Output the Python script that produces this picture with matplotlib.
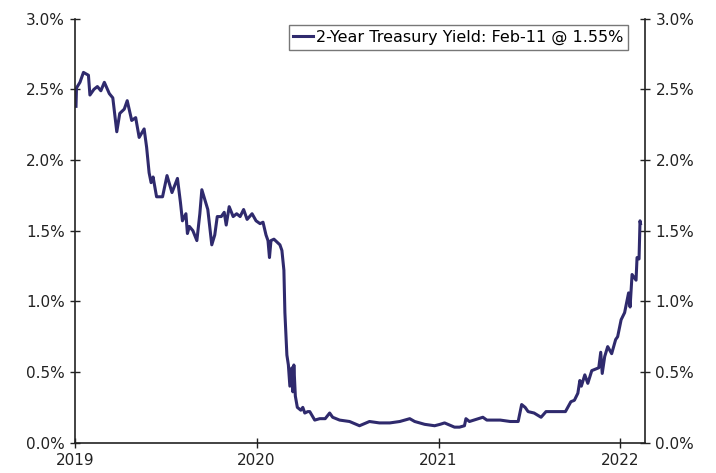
import matplotlib
matplotlib.use("Agg")
import matplotlib.pyplot as plt
from matplotlib.ticker import FuncFormatter
import pandas as pd

dates = [
    "2019-01-03", "2019-01-04", "2019-01-11", "2019-01-18", "2019-01-28", "2019-01-31",
    "2019-02-08", "2019-02-15", "2019-02-22", "2019-03-01", "2019-03-11", "2019-03-18",
    "2019-03-26", "2019-04-01", "2019-04-10", "2019-04-16", "2019-04-25", "2019-05-03",
    "2019-05-10", "2019-05-20", "2019-05-25", "2019-05-30", "2019-06-03", "2019-06-07",
    "2019-06-14", "2019-06-26", "2019-07-05", "2019-07-15", "2019-07-26", "2019-08-01",
    "2019-08-05", "2019-08-12", "2019-08-15", "2019-08-19", "2019-08-26", "2019-09-03",
    "2019-09-09", "2019-09-13", "2019-09-19", "2019-09-25", "2019-10-03", "2019-10-09",
    "2019-10-14", "2019-10-22", "2019-10-28", "2019-11-01", "2019-11-07", "2019-11-15",
    "2019-11-22", "2019-11-29", "2019-12-06", "2019-12-13", "2019-12-23", "2019-12-31",
    "2020-01-08", "2020-01-14", "2020-01-20", "2020-01-24", "2020-01-27", "2020-01-30",
    "2020-02-05", "2020-02-11", "2020-02-17", "2020-02-21", "2020-02-25", "2020-02-27",
    "2020-03-02", "2020-03-05", "2020-03-08", "2020-03-12", "2020-03-14", "2020-03-16",
    "2020-03-19", "2020-03-23", "2020-03-30", "2020-04-03", "2020-04-07", "2020-04-13",
    "2020-04-17", "2020-04-27", "2020-05-07", "2020-05-18", "2020-05-27", "2020-06-02",
    "2020-06-16", "2020-07-06", "2020-07-26", "2020-08-15", "2020-09-04", "2020-09-25",
    "2020-10-15", "2020-11-04", "2020-11-14", "2020-12-04", "2020-12-24", "2021-01-04",
    "2021-01-13", "2021-02-02", "2021-02-12", "2021-02-22", "2021-02-25", "2021-03-04",
    "2021-03-31", "2021-04-08", "2021-04-23", "2021-05-05", "2021-05-25", "2021-06-10",
    "2021-06-17", "2021-06-24", "2021-06-30", "2021-07-12", "2021-07-26", "2021-08-05",
    "2021-08-13", "2021-08-25", "2021-09-13", "2021-09-24", "2021-10-01", "2021-10-08",
    "2021-10-12", "2021-10-15", "2021-10-22", "2021-10-28", "2021-11-05", "2021-11-12",
    "2021-11-19", "2021-11-23", "2021-11-26", "2021-12-01", "2021-12-07", "2021-12-15",
    "2021-12-23", "2021-12-27", "2022-01-03", "2022-01-10", "2022-01-18", "2022-01-21",
    "2022-01-25", "2022-02-02", "2022-02-04", "2022-02-08", "2022-02-10", "2022-02-11",
]
yields = [
    2.38, 2.51, 2.55, 2.62, 2.60, 2.46,
    2.50, 2.52, 2.49, 2.55, 2.47, 2.44,
    2.20, 2.33, 2.36, 2.42, 2.28, 2.30,
    2.16, 2.22, 2.09, 1.91, 1.84, 1.88,
    1.74, 1.74, 1.89, 1.77, 1.87, 1.70,
    1.57, 1.62, 1.48, 1.53, 1.50, 1.43,
    1.62, 1.79, 1.72, 1.65, 1.40, 1.47,
    1.60, 1.60, 1.63, 1.54, 1.67, 1.60,
    1.62, 1.60, 1.65, 1.58, 1.62, 1.57,
    1.55, 1.56, 1.47, 1.43, 1.31, 1.43,
    1.44, 1.42, 1.40, 1.36, 1.22, 0.92,
    0.62, 0.55, 0.40, 0.53, 0.36, 0.55,
    0.33, 0.25, 0.23, 0.25, 0.21, 0.22,
    0.22, 0.16, 0.17, 0.17, 0.21, 0.18,
    0.16, 0.15, 0.12, 0.15, 0.14, 0.14,
    0.15, 0.17, 0.15, 0.13, 0.12, 0.13,
    0.14, 0.11, 0.11, 0.12, 0.17, 0.15,
    0.18, 0.16, 0.16, 0.16, 0.15, 0.15,
    0.27, 0.25, 0.22, 0.21, 0.18, 0.22,
    0.22, 0.22, 0.22, 0.29, 0.30, 0.35,
    0.44, 0.40, 0.48, 0.42, 0.51, 0.52,
    0.53, 0.64, 0.49, 0.61, 0.68, 0.63,
    0.73, 0.75, 0.87, 0.92, 1.06, 0.96,
    1.19, 1.15, 1.31, 1.30, 1.57, 1.55,
]
year_ticks = ["2019-01-01", "2020-01-01", "2021-01-01", "2022-01-01"]
year_labels = ["2019", "2020", "2021", "2022"]
y_ticks = [0.0, 0.5, 1.0, 1.5, 2.0, 2.5, 3.0]
legend_label = "2-Year Treasury Yield: Feb-11 @ 1.55%"

plt.rcParams['font.family'] = ['DejaVu Sans']
fig = plt.figure(figsize=(7.16, 4.73), dpi=100)
ax = fig.add_axes([75/716, 30.3/473, 570/716, 424/473])

x = pd.to_datetime(dates)
ax.plot(x, yields, color="#2f2a6d", lw=2.2, label=legend_label, solid_joinstyle="round")

ax.set_xlim(pd.Timestamp("2019-01-01"), pd.Timestamp("2022-02-20"))
ax.set_ylim(0, 3.0)
ax.set_xticks(pd.to_datetime(year_ticks))
ax.set_xticklabels(year_labels)
ax.set_yticks(y_ticks)
fmt = FuncFormatter(lambda v, p: f"{v:.1f}%")
ax.yaxis.set_major_formatter(fmt)

for s in ["left", "right", "bottom"]:
    ax.spines[s].set_color("#222222")
    ax.spines[s].set_linewidth(1.2)
ax.spines["top"].set_visible(False)
ax.tick_params(axis="both", direction="inout", length=7, width=1, labelsize=11,
               colors="#222222", pad=4)
ax.tick_params(axis="y", labelright=True, right=True)

leg = ax.legend(loc="upper right", bbox_to_anchor=(0.970, 0.985), borderaxespad=0,
                fontsize=11.5, frameon=True, fancybox=False, framealpha=1,
                edgecolor="#777777", handlelength=1.2, handletextpad=0.2,
                borderpad=0.3)
leg.get_frame().set_linewidth(1.0)

fig.savefig("out.png", dpi=100)
